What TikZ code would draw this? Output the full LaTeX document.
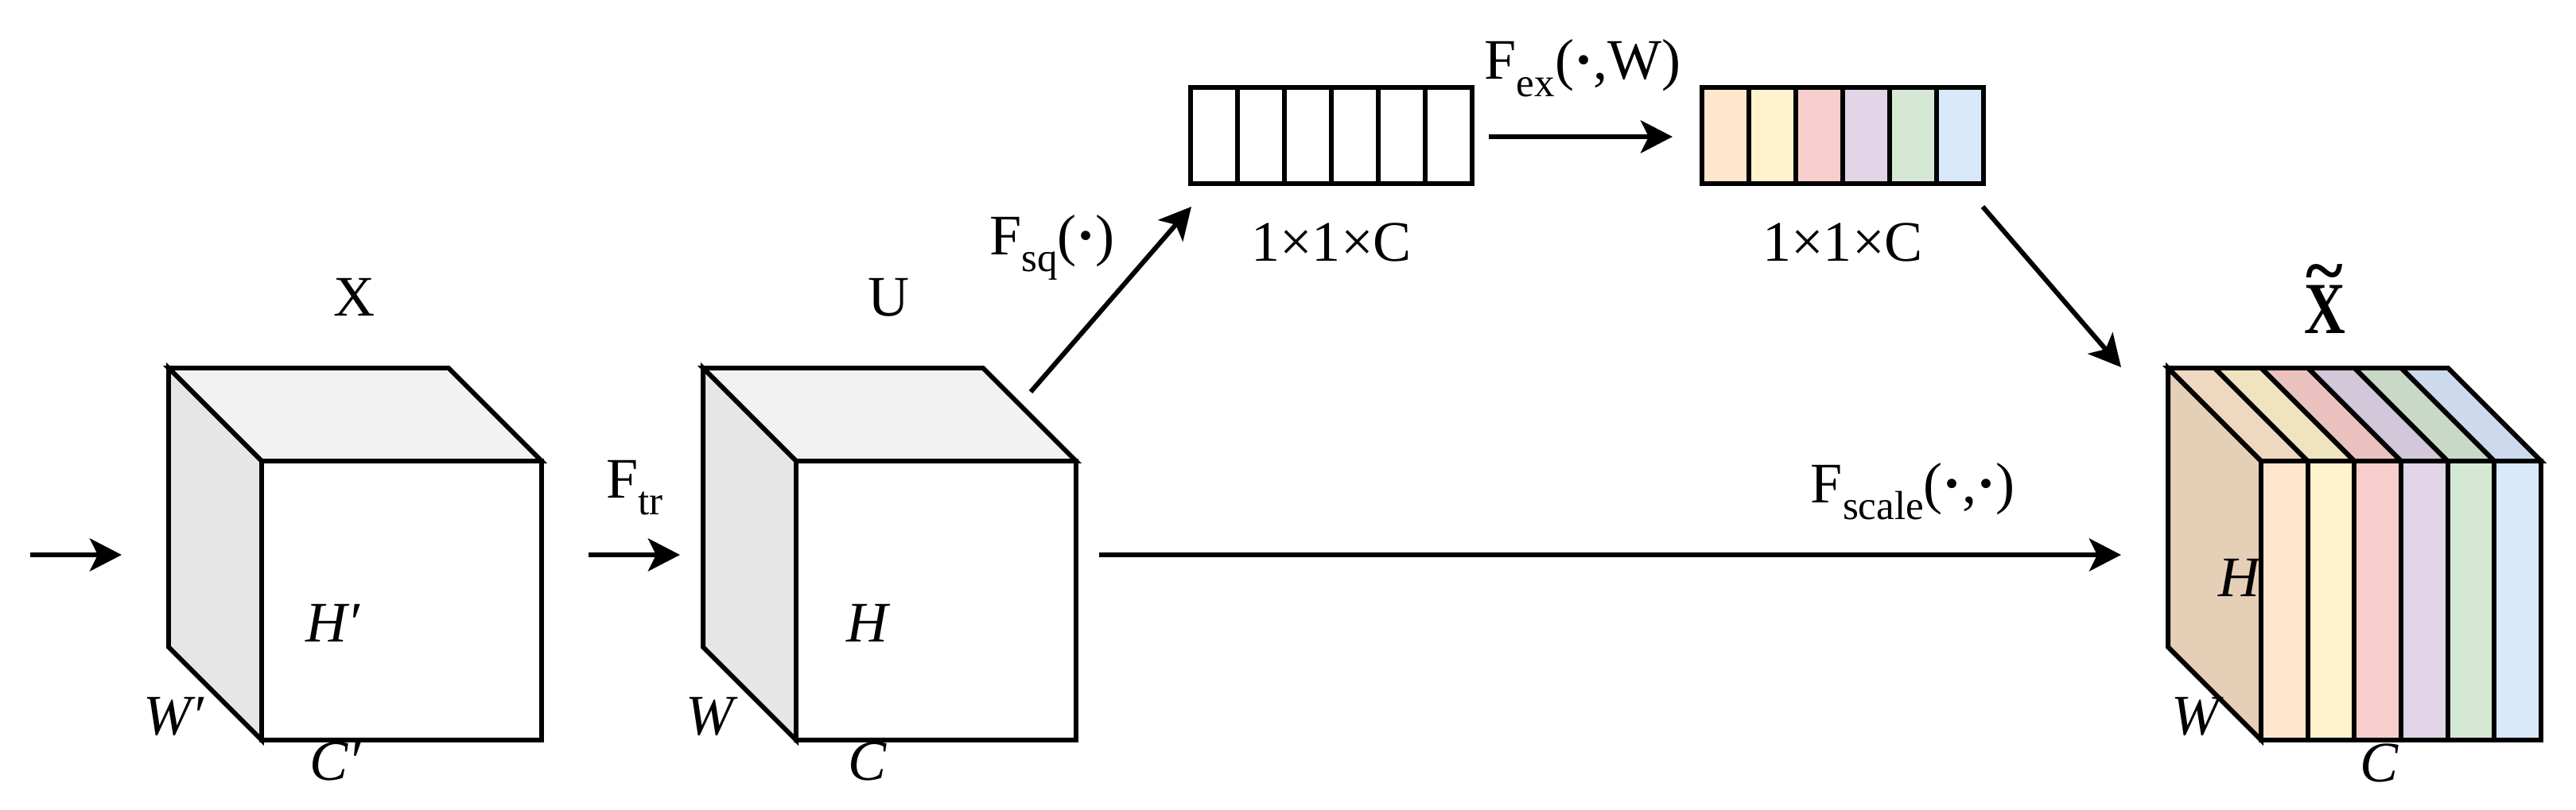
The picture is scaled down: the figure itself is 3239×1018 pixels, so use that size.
\documentclass[tikz,border=0pt]{standalone}
\usepackage{fontspec}
\usepackage{graphicx}
\setmainfont{Liberation Serif}
\usetikzlibrary{arrows.meta}
\newcommand\subs[1]{\raisebox{-0.3em}{\fontsize{14.5}{15}\selectfont #1}}
\newcommand\lblfont{\fontsize{20.5}{24}\selectfont}
\newcommand\cdt{{\bfseries ·}}
\newcommand\tildeX{\ooalign{\hfil\raisebox{0.54em}{\textasciitilde}\hfil\cr\hfil\scalebox{0.8}[1.03]{X}\hfil\cr}}
\definecolor{cO}{HTML}{FFE6CC}
\definecolor{cY}{HTML}{FFF2CC}
\definecolor{cR}{HTML}{F8CECC}
\definecolor{cP}{HTML}{E1D5E7}
\definecolor{cG}{HTML}{D5E8D4}
\definecolor{cB}{HTML}{DAE8FC}
\definecolor{sidetan}{HTML}{E6CFB7}
\definecolor{topgray}{HTML}{F2F2F2}
\definecolor{sidegray}{HTML}{E6E6E6}
\newcommand\graycube[1]{%
  \begin{scope}[shift={(#1)}]
    \filldraw[fill=topgray] (0,0) -- (352,0) -- (469,117) -- (117,117) -- cycle;
    \filldraw[fill=sidegray] (0,0) -- (117,117) -- (117,468) -- (0,351) -- cycle;
    \filldraw[fill=white] (117,117) rectangle (469,468);
  \end{scope}}
\begin{document}
\begin{tikzpicture}[x=0.01cm,y=-0.01cm,line width=1.7pt,
  txt/.style={inner sep=0pt,anchor=base,font=\lblfont},
  arr/.style={-{Stealth[length=0.4cm,width=0.41cm,inset=0.1cm]}}]
\useasboundingbox (0,0) rectangle (3239,1018);
% cubes X and U
\graycube{212,463}
\graycube{884,463}
% coloured cube X~
\begin{scope}[shift={(2726,463)}]
  \filldraw[fill=sidetan] (0,0) -- (117,117) -- (117,468) -- (0,351) -- cycle;
  \foreach \i/\c in {0/cO,1/cY,2/cR,3/cP,4/cG,5/cB}{
    \filldraw[fill=\c!94!black] ({\i*58.67},0) -- ({(\i+1)*58.67},0) -- ({117+(\i+1)*58.67},117) -- ({117+\i*58.67},117) -- cycle;
    \filldraw[fill=\c] ({117+\i*58.67},117) rectangle ({117+(\i+1)*58.67},468);
  }
\end{scope}
% vectors
\foreach \i in {0,...,5}{
  \draw (1497+\i*59,110) rectangle ++(59,121);
}
\foreach \i/\c in {0/cO,1/cY,2/cR,3/cP,4/cG,5/cB}{
  \filldraw[fill=\c] (2140+\i*59,110) rectangle ++(59,121);
}
% labels
\node[txt] (lX) at (446,397) {X};
\node[txt] (lU) at (1118,397) {U};
\node[txt,font=\fontsize{25.5}{28}\selectfont\bfseries] (lXt) at (2923,419) {\tildeX};
\node[txt] (hX) at (418,807) {\itshape H′};
\node[txt] (wX) at (218,924) {\itshape W′};
\node[txt] (cX) at (421,981) {\itshape C′};
\node[txt] (hU) at (1091,807) {\itshape H};
\node[txt] (wU) at (893,924) {\itshape W};
\node[txt] (cU) at (1091,981) {\itshape C};
\node[txt] (hT) at (2815,750) {\itshape H};
\node[txt] (wT) at (2760,924) {\itshape W};
\node[txt] (cT) at (2992,983) {\itshape C};
\node[txt] (d1) at (1674,328) {1×1×C};
\node[txt] (d2) at (2317,328) {1×1×C};
\node[txt] (ftr) at (798,626) {F\subs{tr}};
\node[txt] (fsq) at (1323,320) {F\subs{sq}(\cdt)};
\node[txt] (fex) at (1990,100) {F\subs{ex}(\cdt,W)};
\node[txt] (fsc) at (2405,632) {F\subs{scale}(\cdt,\cdt)};
% arrows
\coordinate (a0) at (38,698);   \coordinate (a1) at (153,698);
\coordinate (b0) at (740,698);  \coordinate (b1) at (855,698);
\coordinate (c0) at (1296,493); \coordinate (c1) at (1498,260);
\coordinate (e0) at (1872,172); \coordinate (e1) at (2103,172);
\coordinate (g0) at (2493,260); \coordinate (g1) at (2667,462);
\coordinate (s0) at (1382,698); \coordinate (s1) at (2667,698);
\draw[arr] (a0) -- (a1);
\draw[arr] (b0) -- (b1);
\draw[arr] (c0) -- (c1);
\draw[arr] (e0) -- (e1);
\draw[arr] (g0) -- (g1);
\draw[arr] (s0) -- (s1);
\end{tikzpicture}
\end{document}
